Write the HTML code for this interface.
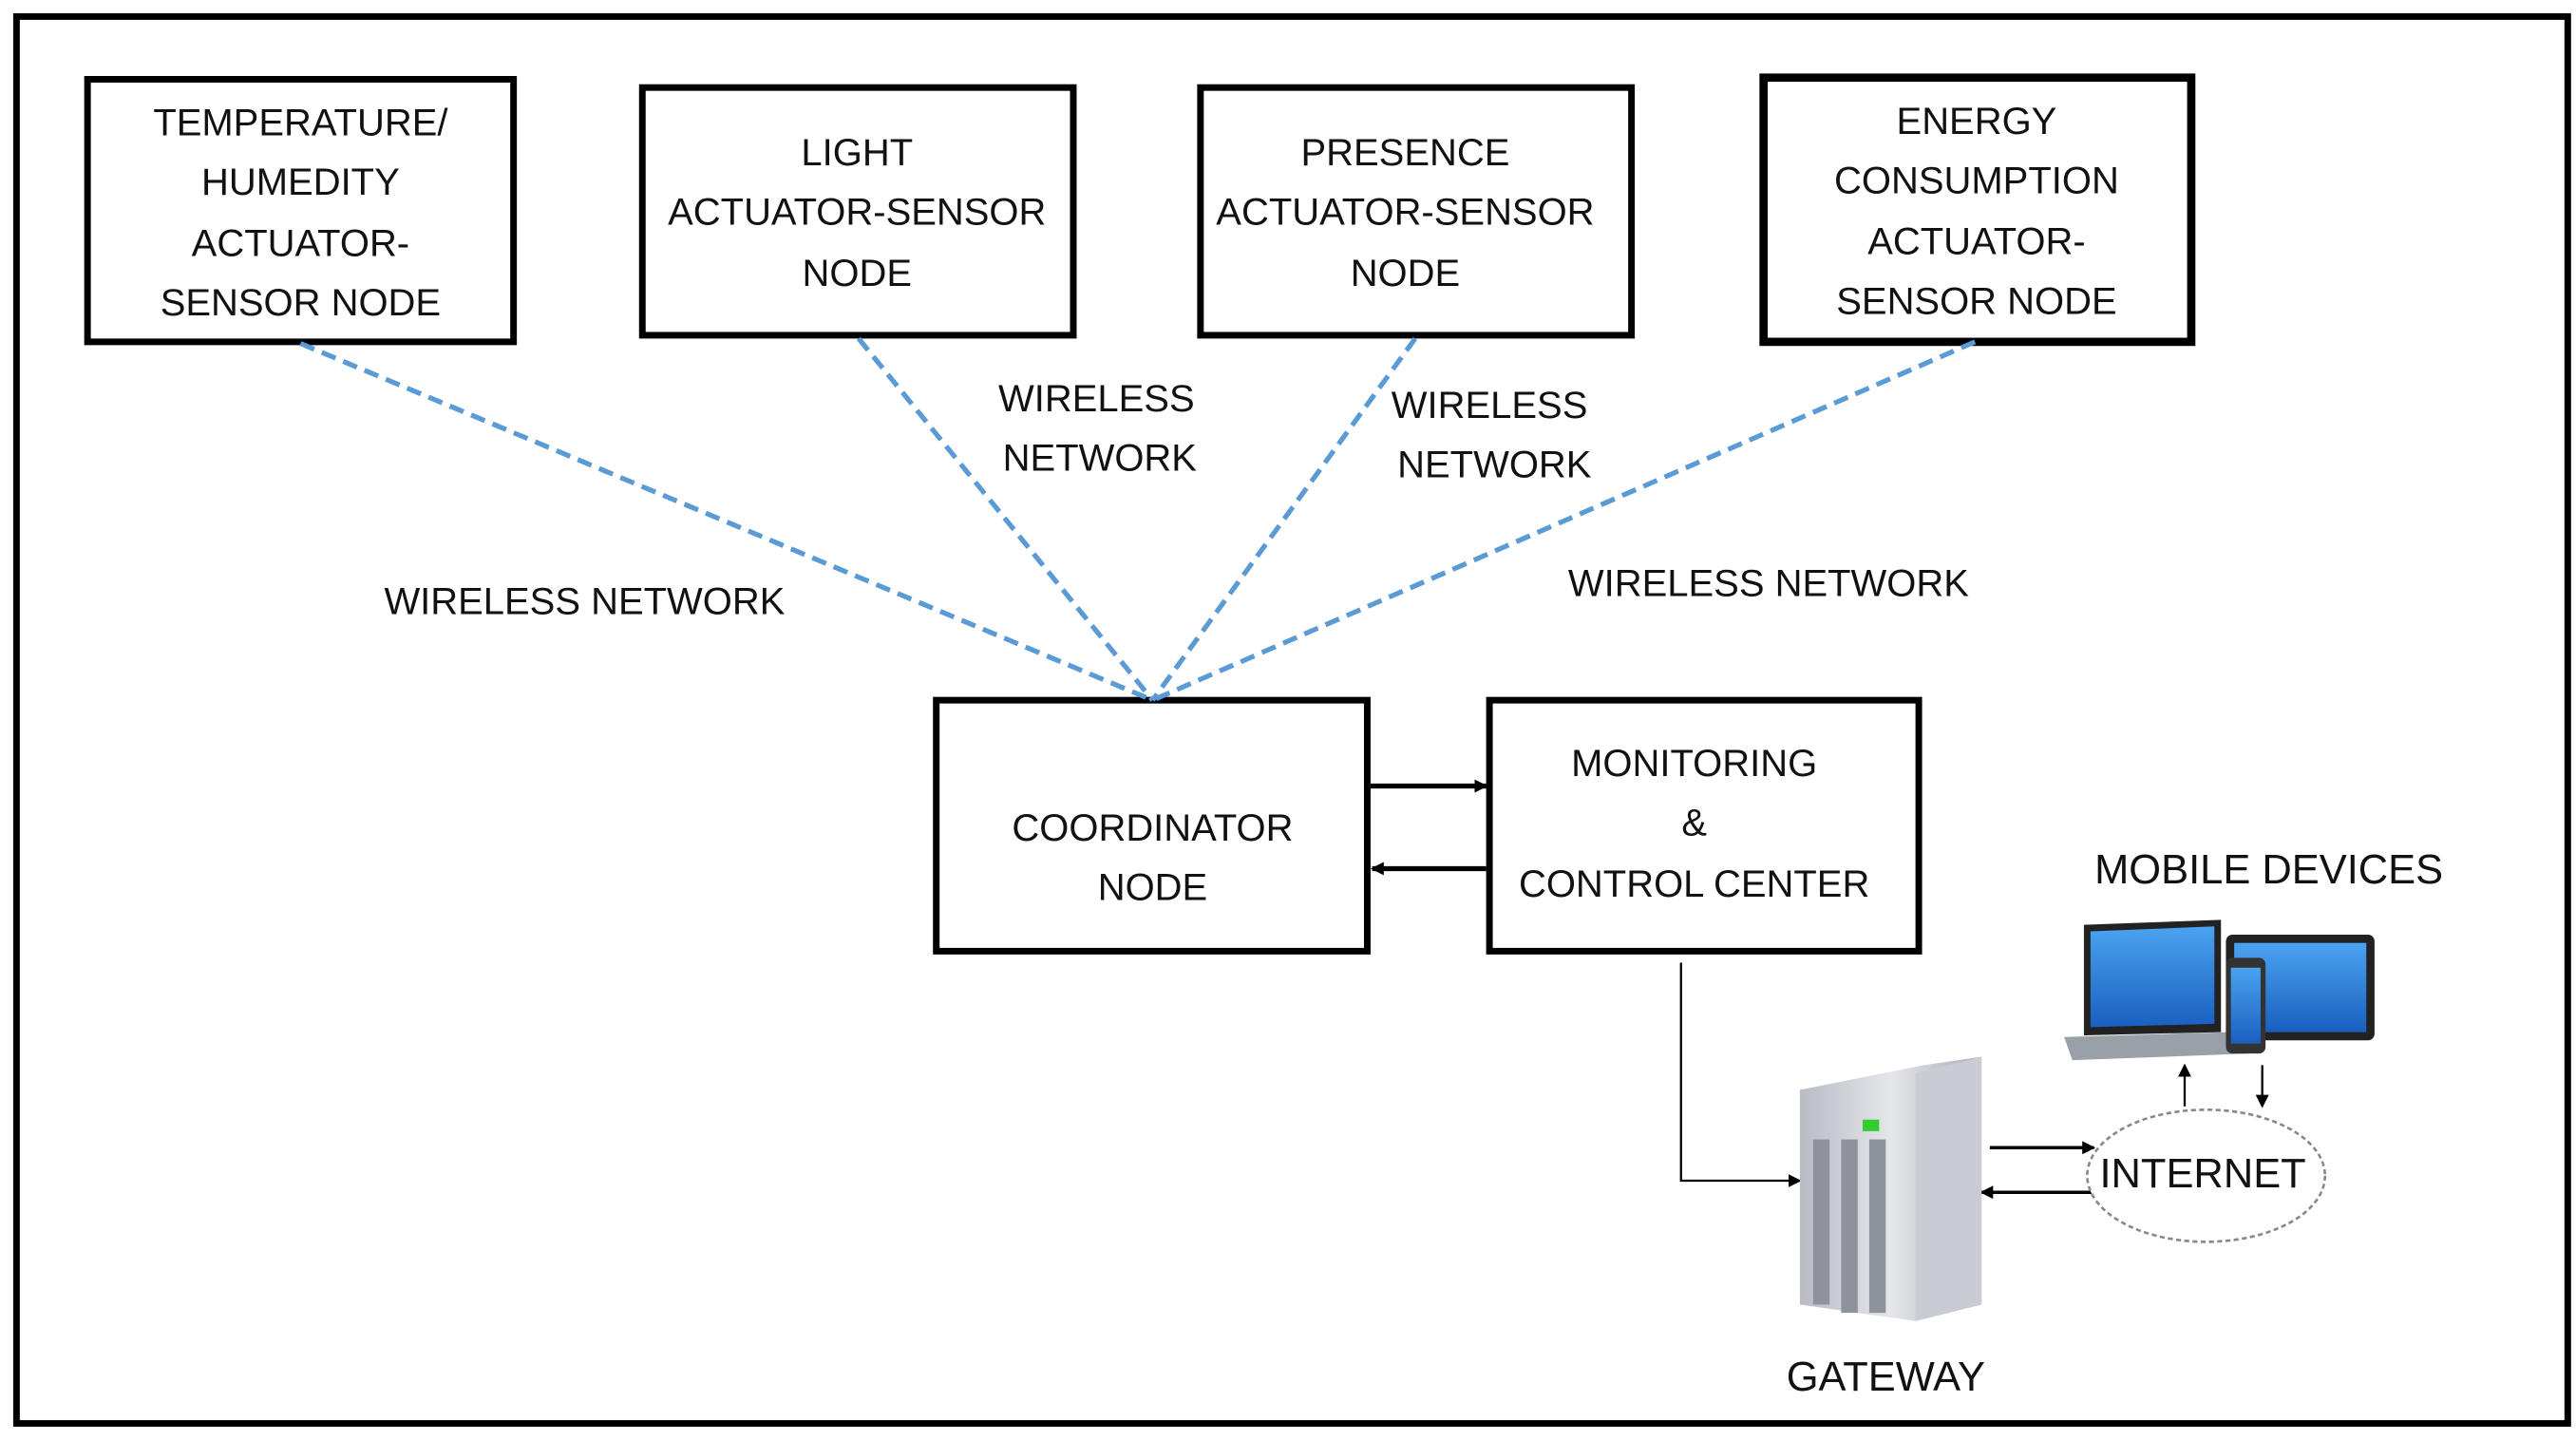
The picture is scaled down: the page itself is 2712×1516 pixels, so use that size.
<!DOCTYPE html>
<html><head><style>html,body{margin:0;padding:0;background:#fff}svg{display:block}</style></head><body>
<svg width="2712" height="1516" viewBox="0 0 1560 872" xmlns="http://www.w3.org/2000/svg" font-family="Liberation Sans, sans-serif">
<defs>
<marker id="a" markerWidth="8" markerHeight="8" refX="7" refY="4" orient="auto" markerUnits="userSpaceOnUse"><path d="M0,0 L8,4 L0,8 z" fill="#000"/></marker>
<linearGradient id="srv" x1="0" x2="1"><stop offset="0" stop-color="#b9bcc4"/><stop offset="0.5" stop-color="#e4e6ea"/><stop offset="1" stop-color="#a9adb6"/></linearGradient>
<linearGradient id="scr" x1="0" y1="0" x2="0" y2="1"><stop offset="0" stop-color="#4aa3f0"/><stop offset="1" stop-color="#1a5fc0"/></linearGradient>
</defs>
<rect x="10" y="10" width="1545" height="852" fill="none" stroke="#000" stroke-width="4"/>
<g fill="none" stroke="#000" stroke-width="4">
<rect x="53" y="48" width="258" height="159"/>
<rect x="389" y="53" width="261" height="150"/>
<rect x="727" y="53" width="261" height="150"/>
<rect x="1068" y="47" width="259" height="160" stroke-width="5"/>
<rect x="567" y="424" width="261" height="152"/>
<rect x="902" y="424" width="260" height="152"/>
</g>
<g stroke="#5b9bd5" stroke-width="3" stroke-dasharray="9,5" fill="none">
<line x1="182" y1="208" x2="698" y2="424"/>
<line x1="520" y1="205" x2="698" y2="424"/>
<line x1="857" y1="205" x2="698" y2="424"/>
<line x1="1196" y1="207" x2="698" y2="424"/>
</g>
<g stroke="#000" stroke-width="3" fill="none">
<line x1="830" y1="476" x2="900" y2="476" marker-end="url(#a)"/>
<line x1="900" y1="526" x2="831" y2="526" marker-end="url(#a)"/>
</g>
<g stroke="#000" stroke-width="1.3" fill="none">
<polyline points="1018,583 1018,715 1090,715" marker-end="url(#a)"/>
<line x1="1205" y1="695" x2="1268" y2="695" stroke-width="2" marker-end="url(#a)"/>
<line x1="1268" y1="722" x2="1200" y2="722" stroke-width="2" marker-end="url(#a)"/>
<line x1="1323" y1="670" x2="1323" y2="645" marker-end="url(#a)"/>
<line x1="1370" y1="645" x2="1370" y2="670" marker-end="url(#a)"/>
</g>
<!-- cloud -->
<ellipse cx="1336" cy="712" rx="72" ry="40" fill="#fff" stroke="#888" stroke-width="1.5" stroke-dasharray="3,2"/>
<!-- server -->
<polygon points="1090,660 1165,645 1200,640 1200,790 1160,800 1090,790" fill="url(#srv)"/>
<polygon points="1160,650 1200,640 1200,790 1160,800" fill="#c9ccd2"/>
<g fill="#8d929c"><rect x="1098" y="690" width="10" height="100"/><rect x="1115" y="690" width="10" height="105"/><rect x="1132" y="690" width="10" height="105"/></g>
<rect x="1128" y="678" width="10" height="7" fill="#3c3"/>
<!-- devices -->
<polygon points="1262,560 1345,557 1345,625 1262,627" fill="#222"/>
<polygon points="1266,564 1341,561 1341,620 1266,622" fill="url(#scr)"/>
<polygon points="1250,628 1350,625 1362,638 1255,642" fill="#9aa0a8"/>
<rect x="1348" y="566" width="90" height="64" rx="4" fill="#222"/>
<rect x="1353" y="571" width="80" height="54" fill="url(#scr)"/>
<rect x="1348" y="580" width="24" height="58" rx="4" fill="#333"/>
<rect x="1351" y="586" width="18" height="46" fill="url(#scr)"/>
<g font-size="23" text-anchor="middle" fill="#111">
<text x="182" y="82">TEMPERATURE/</text><text x="182" y="118">HUMEDITY</text><text x="182" y="155">ACTUATOR-</text><text x="182" y="191">SENSOR NODE</text>
<text x="519" y="100">LIGHT</text><text x="519" y="136">ACTUATOR-SENSOR</text><text x="519" y="173">NODE</text>
<text x="851" y="100">PRESENCE</text><text x="851" y="136">ACTUATOR-SENSOR</text><text x="851" y="173">NODE</text>
<text x="1197" y="81">ENERGY</text><text x="1197" y="117">CONSUMPTION</text><text x="1197" y="154">ACTUATOR-</text><text x="1197" y="190">SENSOR NODE</text>
<text x="698" y="509">COORDINATOR</text><text x="698" y="545">NODE</text>
<text x="1026" y="470">MONITORING</text><text x="1026" y="506">&amp;</text><text x="1026" y="543">CONTROL CENTER</text>
<text x="664" y="249">WIRELESS</text><text x="666" y="285">NETWORK</text>
<text x="902" y="253">WIRELESS</text><text x="905" y="289">NETWORK</text>
<text x="354" y="372">WIRELESS NETWORK</text>
<text x="1071" y="361">WIRELESS NETWORK</text>
<text x="1374" y="535" font-size="25">MOBILE DEVICES</text>
<text x="1334" y="719" font-size="25">INTERNET</text>
<text x="1142" y="842" font-size="25">GATEWAY</text>
</g>
</svg>
</body></html>
